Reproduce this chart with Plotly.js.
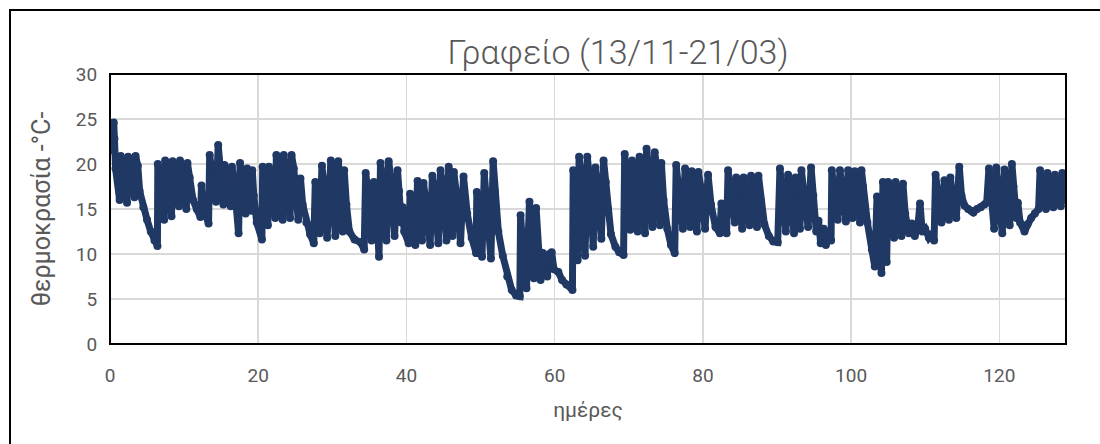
<!DOCTYPE html>
<html>
<head>
<meta charset="utf-8">
<script src="https://cdn.plot.ly/plotly-3.0.1.min.js"></script>
<style>
  html, body { margin: 0; padding: 0; background: #ffffff; overflow: hidden; }
  #wrap { position: relative; width: 1100px; height: 444px; }
  #chart { position: absolute; left: 0; top: 0; width: 1100px; height: 444px; }
  #frame { position: absolute; left: 9px; top: 9px; width: 2000px; height: 2000px;
           border-left: 2px solid #000; border-top: 2px solid #000; pointer-events: none; }
</style>
</head>
<body>
<div id="wrap">
  <div id="chart"></div>
  <div id="frame"></div>
</div>
<script>
// Office temperature log, 13/11 - 21/03 (days since start, °C)
const dayValues = [
  0.45, 0.5, 0.6, 0.75, 1.3, 1.45, 1.75, 2.3, 2.45, 2.75, 3.3, 3.45, 3.75,
  4.0, 4.5, 5.0, 5.5, 6.0, 6.4,
  6.45, 6.75, 7.3, 7.45, 7.75, 8.3, 8.45, 8.75, 9.3, 9.45, 9.75, 10.3, 10.45, 10.75,
  11.2, 11.7, 12.2, 12.35, 12.6, 13.3,
  13.45, 13.75, 14.3, 14.6, 14.8, 15.3, 15.45, 15.75, 16.3, 16.45, 16.75, 17.35, 17.55, 17.8,
  18.3, 18.5, 18.8, 19.1, 19.2, 19.4,
  19.8, 20.5,
  20.6, 20.8, 21.3, 21.45, 21.75, 22.3, 22.45, 22.75, 23.3, 23.45, 23.75, 24.3, 24.5, 24.8, 25.4, 25.7,
  26.0, 26.5, 27.0, 27.5,
  27.7, 27.9, 28.3, 28.6, 28.8, 29.3, 29.8, 30.0, 30.4, 30.8, 31.0, 31.4, 31.6,
  31.9, 32.3, 33.0, 33.8, 34.3,
  34.5, 34.8, 35.3, 35.6, 35.9, 36.3, 36.5, 36.8, 37.3, 37.6, 37.9, 38.4, 38.8, 39.0, 39.3, 39.5, 39.7, 40.3,
  40.5, 40.7, 41.2, 41.5, 41.8, 42.1, 42.3, 42.6, 43.2, 43.5, 43.8, 44.3, 44.6, 44.9, 45.4, 45.7, 46.0,
  46.2, 46.4, 46.7, 47.3, 47.7,
  48.2, 48.8, 49.4,
  49.5, 49.8, 50.2, 50.5, 50.8, 51.4, 51.7, 51.9,
  52.4, 53.0, 53.6, 54.2, 54.8, 55.3,
  55.4, 55.6, 56.0, 56.2, 56.6, 56.9, 57.2, 57.5, 57.8, 58.1, 58.4, 58.7, 59.0, 59.3, 59.6, 59.9,
  60.5, 61.0, 61.6, 62.4,
  62.5, 62.7, 63.1, 63.3, 63.6, 64.1, 64.4, 64.7, 65.2, 65.5, 65.8, 66.3, 66.6, 66.9,
  67.2, 67.6, 68.2, 68.7, 69.3,
  69.45, 69.7, 70.2, 70.45, 70.7, 71.2, 71.45, 71.7, 72.2, 72.4, 72.7, 73.2, 73.5, 73.8, 74.2, 74.4,
  74.7, 75.2, 75.7, 76.2,
  76.4, 76.7, 77.3, 77.6, 77.9, 78.3, 78.5, 78.8, 79.2, 79.4, 79.7, 80.3, 80.7,
  81.1, 81.7, 82.3, 82.5, 82.7, 83.2,
  83.4, 83.7, 84.3, 84.5, 84.8, 85.3, 85.5, 85.8, 86.3, 86.5, 86.8, 87.3, 87.5, 87.8,
  88.3, 88.9, 89.5, 90.1,
  90.4, 90.7, 91.2, 91.5, 91.8, 92.3, 92.5, 92.8, 93.1, 93.3, 93.6, 94.2, 94.6, 94.9,
  95.3, 95.6, 95.9, 96.3, 96.6, 97.0, 97.3,
  97.4, 97.7, 98.2, 98.5, 98.8, 99.3, 99.6, 99.9, 100.2, 100.5, 100.8, 101.2, 101.4, 101.6,
  102.2, 102.8, 103.2, 103.5, 103.7, 104.1,
  104.3, 104.5, 104.8, 105.0, 105.3, 105.8, 106.0, 106.3, 106.8, 107.0, 107.3, 107.8,
  108.2, 108.6, 109.0, 109.3, 109.6, 110.0, 110.5, 110.9, 111.2,
  111.4, 111.7, 112.2, 112.6, 112.9, 113.2, 113.4, 113.7, 114.2, 114.6, 114.9,
  115.3, 115.8, 116.2, 116.5, 117.0, 117.5, 118.0, 118.3,
  118.6, 118.9, 119.3, 119.6, 119.9, 120.4, 120.7, 121.0, 121.4, 121.7, 121.9, 122.3, 122.5, 122.8, 123.4,
  123.8, 124.3, 124.8, 125.3,
  125.5, 125.8, 126.3, 126.5, 126.8, 127.3, 127.5, 127.8, 128.3, 128.5, 128.8, 129.0
];

const tempValues = [
  21.5, 24.6, 22.8, 19.5, 16.0, 20.9, 19.0, 15.7, 20.8, 19.2, 16.3, 20.9, 19.8,
  17.0, 15.2, 13.8, 12.5, 11.5, 10.9,
  20.0, 18.5, 13.8, 20.4, 19.0, 14.2, 20.3, 19.0, 15.3, 20.4, 19.0, 15.0, 20.1, 18.5,
  16.0, 15.0, 14.1, 17.6, 15.0, 13.4,
  21.0, 19.0, 15.8, 22.1, 19.5, 15.5, 19.9, 18.5, 15.3, 19.7, 18.0, 12.3, 20.1, 18.5,
  14.5, 19.5, 18.0, 14.8, 19.3, 16.5,
  13.5, 11.6,
  19.7, 18.0, 13.2, 19.7, 18.5, 14.0, 21.0, 19.5, 13.8, 21.0, 19.5, 14.0, 21.0, 19.5, 13.8, 18.4,
  15.5, 13.5, 12.2, 11.2,
  18.0, 16.0, 12.3, 19.8, 18.2, 11.8, 20.4, 18.5, 12.0, 20.3, 18.5, 12.5, 19.3,
  15.5, 12.5, 11.6, 11.3, 10.5,
  19.0, 17.0, 11.5, 18.0, 16.0, 9.7, 20.1, 18.5, 11.5, 20.3, 18.5, 12.0, 19.3, 17.0, 13.5, 15.2, 12.5, 11.2,
  16.7, 14.5, 11.0, 18.1, 16.5, 11.5, 17.9, 16.0, 11.0, 18.7, 17.0, 11.2, 19.3, 17.5, 11.5, 19.7, 17.5,
  12.0, 19.1, 17.0, 11.2, 18.6,
  14.5, 11.8, 10.1,
  16.9, 14.0, 9.7, 19.0, 16.0, 9.5, 20.3, 17.0,
  12.5, 9.8, 7.5, 6.0, 5.4, 5.3,
  14.3, 10.5, 7.1, 6.2, 15.8, 11.0, 7.3, 15.1, 10.5, 7.1, 10.1, 8.5, 7.5, 10.0, 10.2, 8.3,
  8.0, 7.1, 6.6, 6.0,
  19.3, 16.0, 9.3, 20.8, 18.5, 9.8, 20.8, 18.5, 10.8, 19.6, 17.5, 11.7, 20.4, 18.0,
  15.0, 12.2, 10.8, 10.2, 9.9,
  21.1, 18.5, 12.7, 20.4, 18.5, 12.5, 20.8, 19.0, 12.3, 21.7, 19.5, 13.0, 21.3, 19.5, 13.2, 20.1,
  16.0, 12.8, 11.0, 10.1,
  19.9, 17.5, 12.8, 19.5, 17.5, 13.0, 19.2, 17.5, 12.5, 19.1, 17.5, 12.8, 18.8,
  15.5, 13.0, 12.3, 15.6, 13.0, 12.3,
  19.3, 17.0, 13.5, 18.5, 16.5, 12.8, 18.5, 16.5, 13.2, 18.7, 16.5, 13.0, 18.7, 16.0,
  13.3, 12.0, 11.4, 11.3,
  19.5, 17.0, 12.5, 18.8, 16.5, 12.3, 18.5, 16.5, 12.8, 19.3, 17.0, 13.0, 19.6, 16.5,
  12.5, 13.7, 11.2, 12.8, 11.0, 12.5, 11.5,
  19.3, 17.0, 13.8, 19.3, 17.0, 13.6, 19.3, 17.0, 14.0, 19.2, 17.0, 13.5, 19.3, 17.5,
  13.5, 10.5, 8.6, 16.4, 11.0, 7.9,
  18.0, 14.0, 9.1, 18.0, 15.0, 11.8, 18.0, 15.5, 12.0, 17.8, 14.5, 12.3,
  13.4, 12.0, 13.0, 15.6, 12.5, 12.8, 11.8, 12.2, 11.5,
  18.8, 16.0, 13.5, 18.2, 16.0, 13.8, 18.5, 16.0, 14.0, 19.7, 16.5,
  15.4, 15.0, 14.8, 14.6, 15.0, 15.2, 15.5, 15.7,
  19.5, 17.0, 12.8, 19.6, 17.0, 12.3, 19.4, 17.0, 13.2, 20.0, 17.5, 14.0, 15.7, 13.5, 12.5,
  13.3, 14.0, 14.5, 15.0,
  19.3, 16.5, 15.0, 19.0, 16.5, 15.2, 18.8, 16.5, 15.3, 19.0, 16.0, 18.8
];

const xTicks = [0, 20, 40, 60, 80, 100, 120];
const yTicks = [0, 5, 10, 15, 20, 25, 30];

const chartTitle = 'Γραφείο (13/11-21/03)';
const xTitle = 'ημέρες';
const yTitle = 'θερμοκρασία -°C-';

const navy = '#203864';
const textGrey = '#595959';
const gridGrey = '#d9d9d9';
const fontFamily = 'Roboto, "Noto Sans", sans-serif';

const trace = {
  x: dayValues,
  y: tempValues,
  type: 'scatter',
  mode: 'lines+markers',
  line: { color: navy, width: 7, shape: 'linear' },
  marker: { color: navy, size: 8, symbol: 'circle' },
  hoverinfo: 'x+y',
  showlegend: false
};

const layout = {
  width: 1100,
  height: 444,
  margin: { l: 110, r: 34, t: 74, b: 100 },
  paper_bgcolor: '#ffffff',
  plot_bgcolor: '#ffffff',
  font: { family: fontFamily, color: textGrey },
  title: {
    text: chartTitle,
    font: { family: fontFamily, size: 34, color: textGrey, weight: 300 },
    xref: 'container', x: 618 / 1100, xanchor: 'center',
    yref: 'container', y: 1 - 52 / 444, yanchor: 'middle'
  },
  xaxis: {
    range: [0, 129],
    tickvals: xTicks,
    ticktext: xTicks.map(String),
    showgrid: true,
    gridcolor: gridGrey,
    gridwidth: 1.5,
    zeroline: false,
    showline: false,
    ticks: 'outside',
    ticklen: 14,
    tickcolor: 'rgba(0,0,0,0)',
    tickfont: { family: fontFamily, size: 19, color: textGrey },
    title: { text: xTitle, font: { family: fontFamily, size: 21, color: textGrey }, standoff: 16 }
  },
  yaxis: {
    range: [0, 30],
    tickvals: yTicks,
    ticktext: yTicks.map(String),
    showgrid: true,
    gridcolor: gridGrey,
    gridwidth: 1.5,
    zeroline: false,
    showline: false,
    ticks: 'outside',
    ticklen: 8,
    tickcolor: 'rgba(0,0,0,0)',
    tickfont: { family: fontFamily, size: 19, color: textGrey },
    title: { text: yTitle, font: { family: fontFamily, size: 25, color: textGrey }, standoff: 18 }
  },
  shapes: [
    {
      type: 'rect', xref: 'paper', yref: 'paper', x0: 0, x1: 1, y0: 0, y1: 1,
      line: { color: '#000000', width: 2 }, fillcolor: 'rgba(0,0,0,0)', layer: 'above'
    }
  ]
};

Plotly.newPlot('chart', [trace], layout, { displayModeBar: false, staticPlot: true });
</script>
</body>
</html>
